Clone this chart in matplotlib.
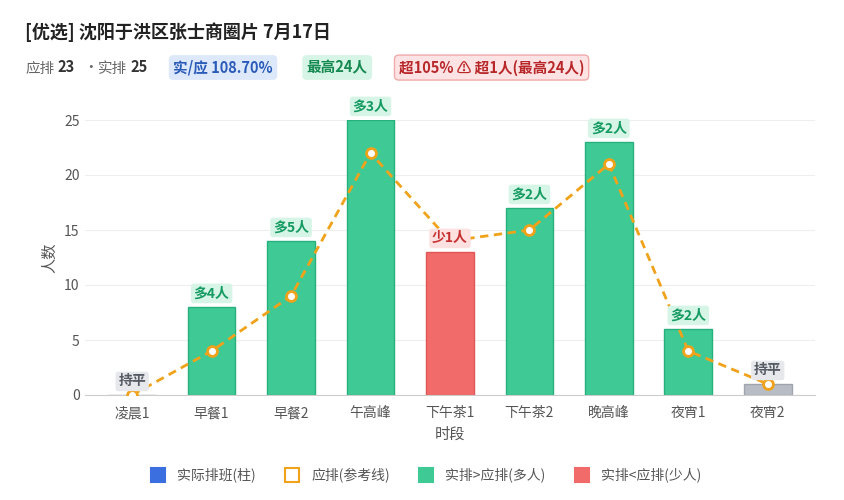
import matplotlib
matplotlib.use("Agg")
import matplotlib.pyplot as plt

plt.rcParams['font.family'] = ['Noto Sans CJK SC', 'DejaVu Sans']

slots = ["凌晨1", "早餐1", "早餐2", "午高峰", "下午茶1", "下午茶2", "晚高峰", "夜宵1", "夜宵2"]
actual = [0, 8, 14, 25, 13, 17, 23, 6, 1]
planned = [0, 4, 9, 22, 14, 15, 21, 4, 1]

GREEN, GREEN_E = "#3ec995", "#25b07c"
RED, RED_E = "#f26b6b", "#e05555"
GRAY, GRAY_E = "#b8bcc4", "#a0a4ac"
ORANGE = "#f0a21a"

fig = plt.figure(figsize=(8.45, 5.0), dpi=100)
ax = fig.add_axes([0.1, 0.21, 0.865, 0.55])

x = list(range(len(slots)))
for i, (a, p) in enumerate(zip(actual, planned)):
    d = a - p
    if d > 0:
        fc, ec, lab, tc, bg = GREEN, GREEN_E, f"多{d}人", "#159a62", "#d6f5e6"
    elif d < 0:
        fc, ec, lab, tc, bg = RED, RED_E, f"少{-d}人", "#c62f2f", "#fde0e0"
    else:
        fc, ec, lab, tc, bg = GRAY, GRAY_E, "持平", "#555a63", "#e6e8ec"
    ax.bar(i, a, width=0.6, color=fc, edgecolor=ec, linewidth=1, zorder=2)
    ax.text(i, a + 0.6, lab, ha="center", va="bottom", fontsize=10, fontweight="bold",
            color=tc, zorder=5,
            bbox=dict(boxstyle="round,pad=0.2", fc=bg, ec="none"))

ax.plot(x, planned, color=ORANGE, linestyle=(0, (3, 2)), linewidth=2, zorder=3)
ax.scatter(x, planned, s=50, facecolor="white", edgecolor=ORANGE, linewidth=2, zorder=4)

ax.set_ylim(0, 25)
ax.set_xlim(-0.6, 8.6)
ax.set_yticks([0, 5, 10, 15, 20, 25])
ax.set_xticks(x)
ax.set_xticklabels(slots)
ax.tick_params(axis="both", colors="#555", labelsize=10, length=0)
ax.tick_params(axis="x", pad=8)
ax.grid(axis="y", color="#eeeeee", zorder=0)
for s in ["top", "right", "left"]:
    ax.spines[s].set_visible(False)
ax.spines["bottom"].set_color("#ccc")
ax.set_xlabel("时段", color="#555", fontsize=11)
ax.set_ylabel("人数", color="#555", fontsize=11)

fig.text(0.03, 0.925, "[优选] 沈阳于洪区张士商圈片 7月17日", fontsize=13, fontweight="bold", color="#222")
fig.text(0.03, 0.855, "应排", fontsize=10.5, color="#666")
fig.text(0.068, 0.855, "23", fontsize=10.5, fontweight="bold", color="#333")
fig.text(0.098, 0.855, "·", fontsize=10.5, color="#666")
fig.text(0.116, 0.855, "实排", fontsize=10.5, color="#666")
fig.text(0.155, 0.855, "25", fontsize=10.5, fontweight="bold", color="#333")
fig.text(0.205, 0.855, "实/应 108.70%", fontsize=10.5, fontweight="bold", color="#2a5bb8",
         bbox=dict(boxstyle="round,pad=0.3", fc="#dde8fb", ec="none"))
fig.text(0.363, 0.855, "最高24人", fontsize=10.5, fontweight="bold", color="#15894f",
         bbox=dict(boxstyle="round,pad=0.3", fc="#d6f5e6", ec="none"))
fig.text(0.472, 0.855, "超105% ⚠ 超1人(最高24人)", fontsize=10.5, fontweight="bold", color="#b8282a",
         bbox=dict(boxstyle="round,pad=0.3", fc="#fde3e3", ec="#f2aaaa"))

# legend
items = [("#3b6fe0", "实际排班(柱)"), ("white", "应排(参考线)"),
         (GREEN, "实排>应排(多人)"), (RED, "实排<应排(少人)")]
handles = []
for c, l in items:
    ec = ORANGE if c == "white" else c
    handles.append(plt.Line2D([], [], marker="s", linestyle="none", markersize=10,
                              markerfacecolor=c, markeredgecolor=ec, markeredgewidth=1.5, label=l))
fig.legend(handles=handles, loc="lower center", bbox_to_anchor=(0.5, 0.01), ncol=4,
           frameon=False, fontsize=10, handletextpad=0.4, columnspacing=1.6, labelcolor="#555")

fig.savefig("out.png", dpi=100)
